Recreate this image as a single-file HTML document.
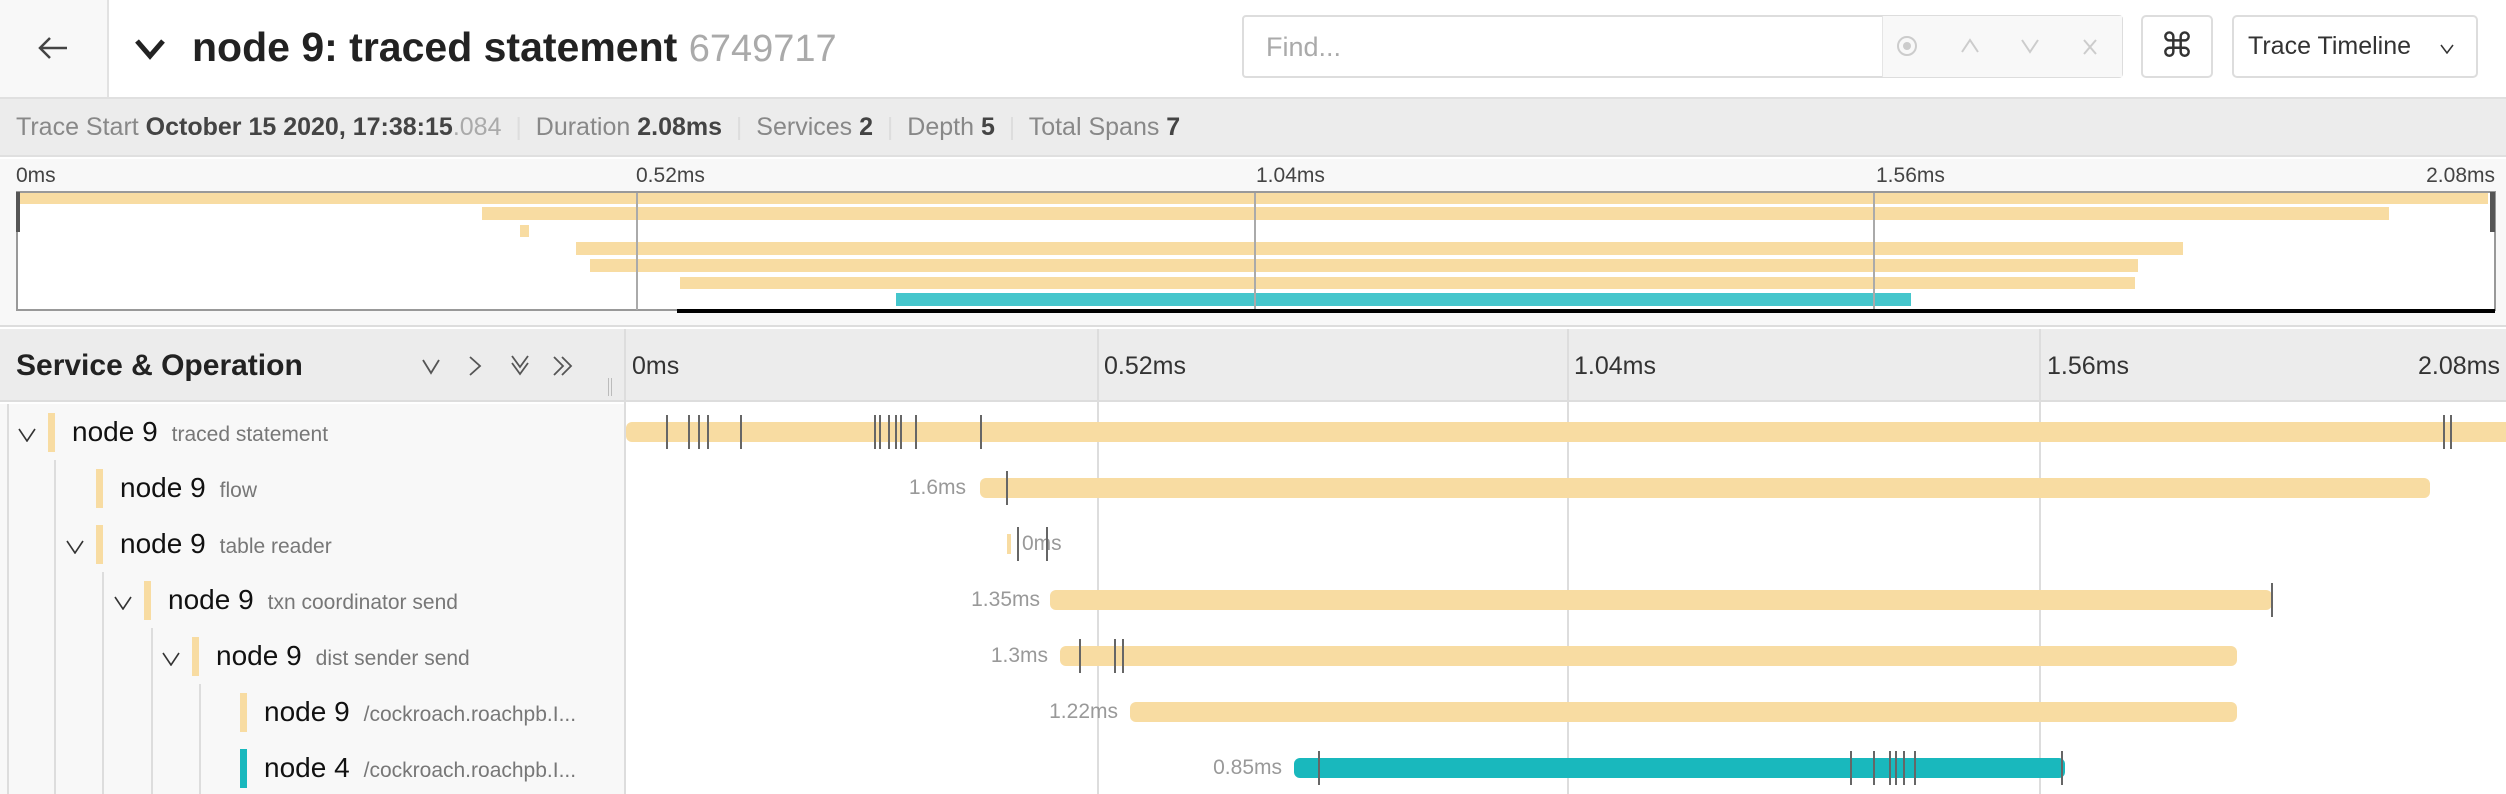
<!DOCTYPE html>
<html><head><meta charset="utf-8"><style>
*{margin:0;padding:0;box-sizing:border-box}
body{width:2506px;height:794px;position:relative;overflow:hidden;background:#fff;font-family:"Liberation Sans",sans-serif;}
.a{position:absolute}
.y{background:#f8dca2}
.t{background:#19b8bd}
.tk{position:absolute;width:2px;height:34px;background:#666;}
.mk{position:absolute;width:7px;height:39px}
.nm{position:absolute;font-size:28px;color:#111;white-space:nowrap}
.nm span{font-size:21px;color:#777;margin-left:14px}
.chev{position:absolute;width:18px;height:14px}
.gl{position:absolute;width:2px;background:#ddd}
.lbl{position:absolute;font-size:21px;color:#999;text-align:right}
</style></head><body>
<!-- header -->
<div class="a" style="left:0;top:0;width:109px;height:97px;background:#f8f8f8;border-right:2px solid #e2e2e2"></div>
<svg class="a" style="left:38px;top:36px" width="30" height="24"><polyline points="12,2 2,12 12,22" fill="none" stroke="#444" stroke-width="2.5"/><line x1="2" y1="12" x2="29" y2="12" stroke="#444" stroke-width="2.5"/></svg>
<svg class="a" style="left:134px;top:38px" width="32" height="22"><polyline points="3,3 16,18 29,3" fill="none" stroke="#222" stroke-width="5"/></svg>
<div class="a" style="left:192px;top:24px;font-size:41px;font-weight:bold;color:#222;white-space:nowrap">node 9: traced statement <span style="font-weight:normal;color:#aaa;font-size:38px">6749717</span></div>
<div class="a" style="left:1242px;top:15px;width:881px;height:63px;border:2px solid #ddd;border-radius:4px;background:#fff"></div>
<div class="a" style="left:1882px;top:16px;width:240px;height:61px;background:#f8f8f8;border-left:1px solid #e5e5e5"></div>
<div class="a" style="left:1266px;top:32px;font-size:27px;color:#aaa">Find...</div>
<div class="a" style="left:1897px;top:36px;width:20px;height:20px;border:2px solid #ccc;border-radius:50%"></div>
<div class="a" style="left:1903px;top:42px;width:8px;height:8px;background:#ccc;border-radius:50%"></div>
<svg class="a" style="left:1960px;top:38px" width="20" height="16"><polyline points="2,14 10,2 18,14" fill="none" stroke="#ccc" stroke-width="2"/></svg>
<svg class="a" style="left:2020px;top:38px" width="20" height="16"><polyline points="2,2 10,14 18,2" fill="none" stroke="#ccc" stroke-width="2"/></svg>
<svg class="a" style="left:2082px;top:38px" width="16" height="18"><line x1="2" y1="2" x2="14" y2="16" stroke="#ccc" stroke-width="2"/><line x1="14" y1="2" x2="2" y2="16" stroke="#ccc" stroke-width="2"/></svg>
<div class="a" style="left:2141px;top:15px;width:72px;height:63px;border:2px solid #ddd;border-radius:5px;font-size:34px;text-align:center;line-height:59px;color:#333">&#8984;</div>
<div class="a" style="left:2232px;top:15px;width:246px;height:63px;border:2px solid #ddd;border-radius:5px;font-size:25px;line-height:59px;padding-left:14px;color:#333;white-space:nowrap">Trace Timeline</div>
<svg class="a" style="left:2440px;top:44px" width="14" height="10"><polyline points="1,1 7,9 13,1" fill="none" stroke="#333" stroke-width="1.5"/></svg>
<div class="a" style="left:0;top:97px;width:2506px;height:2px;background:#e0e0e0"></div>
<!-- subheader -->
<div class="a" style="left:0;top:99px;width:2506px;height:58px;background:#ececec;border-bottom:2px solid #e0e0e0"></div>
<div class="a" style="left:16px;top:113px;font-size:25px;color:#888;white-space:nowrap">Trace Start <b style="color:#444">October 15 2020, 17:38:15</b><span style="color:#aaa">.084</span><span style="color:#ddd"> &nbsp;|&nbsp; </span>Duration <b style="color:#444">2.08ms</b><span style="color:#ddd"> &nbsp;|&nbsp; </span>Services <b style="color:#444">2</b><span style="color:#ddd"> &nbsp;|&nbsp; </span>Depth <b style="color:#444">5</b><span style="color:#ddd"> &nbsp;|&nbsp; </span>Total Spans <b style="color:#444">7</b></div>
<!-- minimap -->
<div class="a" style="left:0;top:159px;width:2506px;height:168px;background:#f8f8f8;border-bottom:2px solid #ddd"></div>
<div class="a" style="left:16px;top:164px;font-size:21px;color:#444">0ms</div>
<div class="a" style="left:636px;top:164px;font-size:21px;color:#444">0.52ms</div>
<div class="a" style="left:1256px;top:164px;font-size:21px;color:#444">1.04ms</div>
<div class="a" style="left:1876px;top:164px;font-size:21px;color:#444">1.56ms</div>
<div class="a" style="left:2400px;top:164px;width:95px;text-align:right;font-size:21px;color:#444">2.08ms</div>
<div class="a" style="left:16px;top:191px;width:2480px;height:120px;background:#fff;border:2px solid #999"></div>
<div class="a y" style="left:18px;top:193px;width:2470px;height:11px"></div>
<div class="a y" style="left:482px;top:207px;width:1907px;height:13px"></div>
<div class="a y" style="left:520px;top:225px;width:9px;height:12px"></div>
<div class="a y" style="left:576px;top:242px;width:1607px;height:13px"></div>
<div class="a y" style="left:590px;top:259px;width:1548px;height:13px"></div>
<div class="a y" style="left:680px;top:277px;width:1455px;height:12px"></div>
<div class="a" style="left:896px;top:293px;width:1015px;height:13px;background:#45c6cc"></div>
<div class="a" style="left:636px;top:193px;width:2px;height:117px;background:#aaa"></div>
<div class="a" style="left:1254px;top:193px;width:2px;height:117px;background:#aaa"></div>
<div class="a" style="left:1873px;top:193px;width:2px;height:117px;background:#aaa"></div>
<div class="a" style="left:16px;top:192px;width:4px;height:40px;background:#555"></div>
<div class="a" style="left:2490px;top:192px;width:5px;height:40px;background:#555"></div>
<div class="a" style="left:677px;top:309px;width:1818px;height:4px;background:#000"></div>
<!-- timeline header -->
<div class="a" style="left:0;top:329px;width:2506px;height:73px;background:#ececec;border-bottom:2px solid #ddd"></div>
<div class="a" style="left:16px;top:349px;font-size:30px;font-weight:bold;color:#222">Service &amp; Operation</div>
<svg class="a" style="left:420px;top:354px" width="170" height="26">
<polyline points="3,6 11,19 19,6" fill="none" stroke="#555" stroke-width="1.8"/>
<polyline points="470,0" fill="none"/>
<polyline points="50,3 60,12 50,21" fill="none" stroke="#555" stroke-width="1.8"/>
<polyline points="92,2 100,13 108,2" fill="none" stroke="#555" stroke-width="1.8"/>
<polyline points="92,9 100,20 108,9" fill="none" stroke="#555" stroke-width="1.8"/>
<polyline points="134,3 143,12 134,21" fill="none" stroke="#555" stroke-width="1.8"/>
<polyline points="142,3 151,12 142,21" fill="none" stroke="#555" stroke-width="1.8"/>
</svg>
<div class="a" style="left:608px;top:378px;width:4px;height:18px;border-left:1px solid #bbb;border-right:1px solid #bbb"></div>
<div class="a" style="left:624px;top:329px;width:2px;height:465px;background:#ddd"></div>
<div class="a" style="left:632px;top:352px;font-size:25px;color:#333">0ms</div>
<div class="a" style="left:1104px;top:352px;font-size:25px;color:#333">0.52ms</div>
<div class="a" style="left:1574px;top:352px;font-size:25px;color:#333">1.04ms</div>
<div class="a" style="left:2047px;top:352px;font-size:25px;color:#333">1.56ms</div>
<div class="a" style="left:2380px;top:352px;width:120px;text-align:right;font-size:25px;color:#333">2.08ms</div>
<div class="a" style="left:1097px;top:329px;width:2px;height:465px;background:#ddd"></div>
<div class="a" style="left:1567px;top:329px;width:2px;height:465px;background:#ddd"></div>
<div class="a" style="left:2039px;top:329px;width:2px;height:465px;background:#ddd"></div>
<!-- left panel -->
<div class="a" style="left:0;top:404px;width:624px;height:390px;background:#f8f8f8"></div>
<div class="gl" style="left:7px;top:404px;height:390px"></div>
<div class="gl" style="left:54px;top:460px;height:334px"></div>
<div class="gl" style="left:102px;top:572px;height:222px"></div>
<div class="gl" style="left:151px;top:628px;height:166px"></div>
<div class="gl" style="left:199px;top:684px;height:110px"></div>
<svg class="chev" style="left:18px;top:428px"><polyline points="1,1 9,13 17,1" fill="none" stroke="#333" stroke-width="1.6"/></svg>
<svg class="chev" style="left:66px;top:540px"><polyline points="1,1 9,13 17,1" fill="none" stroke="#333" stroke-width="1.6"/></svg>
<svg class="chev" style="left:114px;top:596px"><polyline points="1,1 9,13 17,1" fill="none" stroke="#333" stroke-width="1.6"/></svg>
<svg class="chev" style="left:162px;top:652px"><polyline points="1,1 9,13 17,1" fill="none" stroke="#333" stroke-width="1.6"/></svg>
<div class="mk y" style="left:48px;top:413px"></div>
<div class="mk y" style="left:96px;top:469px"></div>
<div class="mk y" style="left:96px;top:525px"></div>
<div class="mk y" style="left:144px;top:581px"></div>
<div class="mk y" style="left:192px;top:637px"></div>
<div class="mk y" style="left:240px;top:693px"></div>
<div class="mk t" style="left:240px;top:749px"></div>
<div class="nm" style="left:72px;top:416px">node 9<span>traced statement</span></div>
<div class="nm" style="left:120px;top:472px">node 9<span>flow</span></div>
<div class="nm" style="left:120px;top:528px">node 9<span>table reader</span></div>
<div class="nm" style="left:168px;top:584px">node 9<span>txn coordinator send</span></div>
<div class="nm" style="left:216px;top:640px">node 9<span>dist sender send</span></div>
<div class="nm" style="left:264px;top:696px">node 9<span>/cockroach.roachpb.I...</span></div>
<div class="nm" style="left:264px;top:752px">node 4<span>/cockroach.roachpb.I...</span></div>
<!-- bars -->
<div class="a y" style="left:626px;top:422px;width:1880px;height:20px;border-radius:6px 0 0 6px"></div>
<div class="a y" style="left:980px;top:478px;width:1450px;height:20px;border-radius:6px"></div>
<div class="a y" style="left:1007px;top:534px;width:4px;height:20px"></div>
<div class="a y" style="left:1050px;top:590px;width:1222px;height:20px;border-radius:6px"></div>
<div class="a y" style="left:1060px;top:646px;width:1177px;height:20px;border-radius:6px"></div>
<div class="a y" style="left:1130px;top:702px;width:1107px;height:20px;border-radius:6px"></div>
<div class="a t" style="left:1294px;top:758px;width:771px;height:20px;border-radius:6px"></div>
<div class="lbl" style="left:860px;top:476px;width:106px">1.6ms</div>
<div class="a" style="left:1022px;top:532px;font-size:21px;color:#999">0ms</div>
<div class="lbl" style="left:930px;top:588px;width:110px">1.35ms</div>
<div class="lbl" style="left:940px;top:644px;width:108px">1.3ms</div>
<div class="lbl" style="left:1010px;top:700px;width:108px">1.22ms</div>
<div class="lbl" style="left:1170px;top:756px;width:112px">0.85ms</div>
<!-- ticks -->
<div class="tk" style="left:666px;top:415px"></div>
<div class="tk" style="left:688px;top:415px"></div>
<div class="tk" style="left:698px;top:415px"></div>
<div class="tk" style="left:707px;top:415px"></div>
<div class="tk" style="left:740px;top:415px"></div>
<div class="tk" style="left:874px;top:415px"></div>
<div class="tk" style="left:879px;top:415px"></div>
<div class="tk" style="left:888px;top:415px"></div>
<div class="tk" style="left:895px;top:415px"></div>
<div class="tk" style="left:900px;top:415px"></div>
<div class="tk" style="left:915px;top:415px"></div>
<div class="tk" style="left:980px;top:415px"></div>
<div class="tk" style="left:2443px;top:415px"></div>
<div class="tk" style="left:2450px;top:415px"></div>
<div class="tk" style="left:1006px;top:471px"></div>
<div class="tk" style="left:1017px;top:527px"></div>
<div class="tk" style="left:1046px;top:527px"></div>
<div class="tk" style="left:2271px;top:583px"></div>
<div class="tk" style="left:1079px;top:639px"></div>
<div class="tk" style="left:1114px;top:639px"></div>
<div class="tk" style="left:1122px;top:639px"></div>
<div class="tk" style="left:1318px;top:751px"></div>
<div class="tk" style="left:1850px;top:751px"></div>
<div class="tk" style="left:1873px;top:751px"></div>
<div class="tk" style="left:1889px;top:751px"></div>
<div class="tk" style="left:1895px;top:751px"></div>
<div class="tk" style="left:1903px;top:751px"></div>
<div class="tk" style="left:1914px;top:751px"></div>
<div class="tk" style="left:2061px;top:751px"></div>
</body></html>
